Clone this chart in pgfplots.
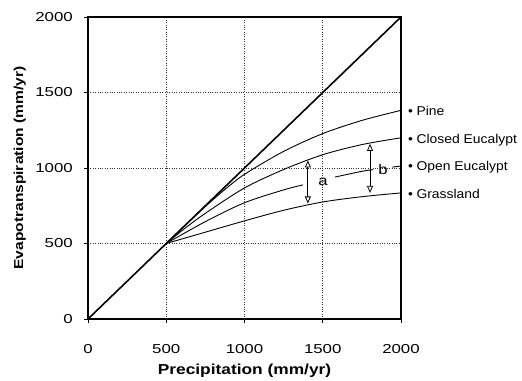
\documentclass[border=0pt]{standalone}
\usepackage{fontspec}
\setmainfont{Liberation Sans}[FakeStretch=1.3]
\newfontfamily\labfont{Liberation Sans}[FakeStretch=1.2]
\newfontfamily\legfont{Liberation Sans}[FakeStretch=1.09]
\usepackage{pgfplots}
\pgfplotsset{compat=1.18}
\usetikzlibrary{arrows.meta}

\pgfplotstableread{
P E
500 500
625 624
750 745
875 858
1000 958
1250 1110
1500 1228
1750 1315
2000 1382
}\pine
\pgfplotstableread{
P E
500 500
625 605
750 700
1000 868
1250 990
1500 1088
1750 1155
2000 1200
}\closed
\pgfplotstableread{
P E
500 500
750 645
1000 770
1250 855
1374 888
nan nan
1578 940
1750 978
1821 989
nan nan
1945 1006
2000 1013
}\open
\pgfplotstableread{
P E
500 500
750 575
1000 650
1250 720
1500 775
1750 810
2000 835
}\grass

\begin{document}
\begin{tikzpicture}
\begin{axis}[
 name=ax,
 scale only axis, width=313bp, height=302bp,
 xmin=0, xmax=2000, ymin=0, ymax=2000,
 xtick={0,500,...,2000}, ytick={0,500,...,2000},
 grid=major, grid style={dotted, black!80, line width=0.6pt},
 axis line style={line width=1.2pt},
 tick align=outside, tick pos=left, major tick length=4bp,
 tick style={black, line width=0.6pt},
 /pgf/number format/assume math mode=true,
 /pgf/number format/1000 sep={},
 ticklabel style={font=\fontsize{13}{13}\selectfont},
 xticklabel style={anchor=base, yshift=-30bp, inner sep=0pt},
 yticklabel style={anchor=east, xshift=-11bp, inner sep=0pt},
 xlabel={Precipitation (mm/yr)}, ylabel={Evapotranspiration (mm/yr)},
 xlabel style={font=\labfont\bfseries\fontsize{14.5}{14.5}\selectfont, at={(axis description cs:0.5,-0.185)}, anchor=base},
 ylabel style={font=\labfont\bfseries\fontsize{13}{13}\selectfont, at={(axis description cs:-0.207,0.5)}, anchor=base},
 clip=false,
 unbounded coords=jump,
]
\addplot[black, line width=1.6pt] coordinates {(0,0) (2000,2000)};
\addplot[black, line width=0.9pt, smooth] table[x=P,y=E] {\pine};
\addplot[black, line width=0.9pt, smooth] table[x=P,y=E] {\closed};
\addplot[black, line width=0.9pt, smooth] table[x=P,y=E] {\open};
\addplot[black, line width=0.9pt, smooth] table[x=P,y=E] {\grass};

\draw[line width=0.8pt, {Triangle[open,length=7bp,width=6bp]}-{Triangle[open,length=7bp,width=6bp]}] (axis cs:1405,1050) -- (axis cs:1405,765);
\draw[line width=0.8pt, {Triangle[open,length=7bp,width=6bp]}-{Triangle[open,length=7bp,width=6bp]}] (axis cs:1802,1160) -- (axis cs:1802,835);
\node[font=\labfont\fontsize{14}{14}\selectfont, inner sep=0pt] at (axis cs:1502,906) {a};
\node[font=\labfont\fontsize{14}{14}\selectfont, inner sep=0pt] at (axis cs:1885,992) {b};

\begin{scope}[every node/.style={anchor=base west, inner sep=0pt, xshift=7bp, font=\legfont\fontsize{12.8}{12.8}\selectfont}]
\node at (axis cs:2000,1349) {\textbullet\hspace{3.5bp}Pine};
\node at (axis cs:2000,1163) {\textbullet\hspace{3.5bp}Closed Eucalypt};
\node at (axis cs:2000,982) {\textbullet\hspace{3.5bp}Open Eucalypt};
\node at (axis cs:2000,797) {\textbullet\hspace{3.5bp}Grassland};
\end{scope}
\end{axis}
\pgfresetboundingbox
\path ([xshift=-88bp,yshift=-62bp]ax.south west) rectangle ([xshift=121bp,yshift=17bp]ax.north east);
\end{tikzpicture}
\end{document}
